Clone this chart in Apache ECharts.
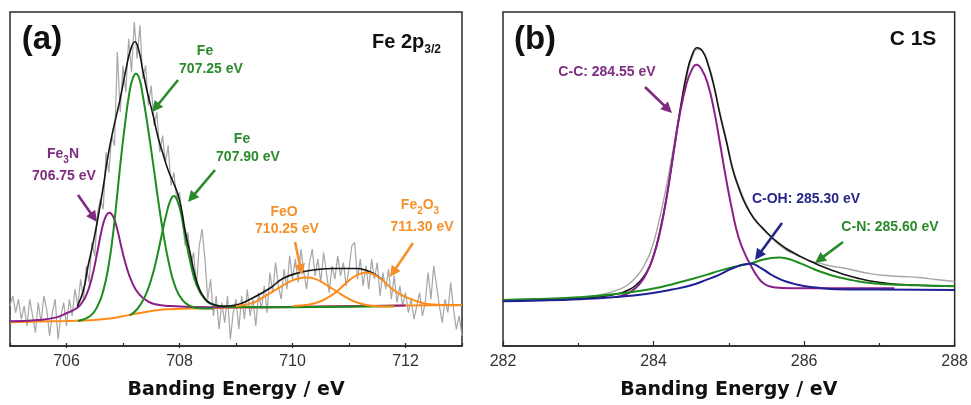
<!DOCTYPE html>
<html><head><meta charset="utf-8">
<script src="https://cdn.jsdelivr.net/npm/echarts@6/dist/echarts.min.js"></script>
<style>html,body{margin:0;padding:0;background:#fff}#c{width:971px;height:405px}</style>
</head><body><div id="c"></div>
<script>
// ---------- Panel (a): Fe 2p3/2 ----------
const aTickLabels = [706, 708, 710, 712];
const aRaw = [[705.00,12],[705.05,15],[705.10,10],[705.15,14],[705.20,8],[705.25,12],[705.30,6],[705.35,14],[705.40,9],[705.45,4],[705.50,13],[705.55,7],[705.60,15],[705.65,11],[705.70,3],[705.75,10],[705.80,14],[705.85,2],[705.90,9],[705.95,13],[706.00,6],[706.05,14],[706.10,9],[706.15,17],[706.20,12],[706.25,20],[706.30,14],[706.35,24],[706.40,19],[706.45,31],[706.50,27],[706.55,40],[706.60,44],[706.65,41],[706.70,58],[706.75,52],[706.80,63],[706.85,60],[706.90,88],[706.95,70],[707.00,84],[707.05,76],[707.10,92],[707.15,82],[707.20,97],[707.25,86],[707.30,96],[707.35,80],[707.40,84],[707.45,72],[707.50,78],[707.55,66],[707.60,70],[707.65,58],[707.70,63],[707.75,55],[707.80,60],[707.85,48],[707.90,52],[707.95,44],[708.00,46],[708.05,38],[708.10,30],[708.15,34],[708.20,24],[708.25,28],[708.30,18],[708.35,30],[708.40,35],[708.45,26],[708.50,14],[708.55,20],[708.60,9],[708.65,15],[708.70,5],[708.75,13],[708.80,7],[708.85,15],[708.90,2],[708.95,10],[709.00,14],[709.05,5],[709.10,15],[709.15,8],[709.20,17],[709.25,9],[709.30,14],[709.35,6],[709.40,16],[709.45,11],[709.50,18],[709.55,10],[709.60,22],[709.65,16],[709.70,25],[709.75,18],[709.80,14],[709.85,23],[709.90,17],[709.95,27],[710.00,20],[710.05,26],[710.10,19],[710.15,29],[710.20,22],[710.25,17],[710.30,25],[710.35,29],[710.40,21],[710.45,26],[710.50,19],[710.55,28],[710.60,22],[710.65,16],[710.70,24],[710.75,20],[710.80,27],[710.85,21],[710.90,25],[710.95,18],[711.00,23],[711.05,30],[711.10,31],[711.15,20],[711.20,26],[711.25,18],[711.30,24],[711.35,17],[711.40,26],[711.45,20],[711.50,25],[711.55,15],[711.60,22],[711.65,17],[711.70,23],[711.75,14],[711.80,21],[711.85,13],[711.90,18],[711.95,12],[712.00,16],[712.05,10],[712.10,14],[712.15,8],[712.20,12],[712.25,16],[712.30,9],[712.35,13],[712.40,22],[712.45,14],[712.50,24],[712.55,18],[712.60,12],[712.65,7],[712.70,14],[712.75,10],[712.80,19],[712.85,11],[712.90,5],[712.95,9],[713.00,3]];
const aBackground = [[705.0,7.1],[705.5,7.3],[706.0,7.5],[706.5,7.8],[706.8,8.3],[707.0,8.9],[707.2,9.6],[707.4,10.2],[707.6,10.7],[707.8,11.0],[708.2,11.2],[708.7,11.4],[709.5,11.6],[710.5,11.8],[711.5,12.0],[712.5,12.2],[713.0,12.3]];
const aFe3N = [[705.0,7.4],[705.5,7.8],[705.8,8.5],[706.0,9.8],[706.15,11.0],[706.25,12.4],[706.35,15.2],[706.45,20.5],[706.55,28.5],[706.62,34.5],[706.69,38.6],[706.76,39.9],[706.83,38.6],[706.90,34.8],[706.98,29],[707.06,23.8],[707.15,19.5],[707.28,15.6],[707.45,13.3],[707.6,12.4],[707.8,12.0],[708.2,11.7],[709.0,11.6],[710.0,11.7],[711.0,11.9],[712.0,12.1]];
const aFe1 = [[706.20,7.5],[706.42,9.0],[706.55,12.0],[706.65,16.5],[706.74,23.5],[706.82,33],[706.89,44],[706.96,55.5],[707.04,67],[707.11,75.5],[707.17,80.0],[707.23,81.5],[707.29,80.0],[707.35,75],[707.44,65.5],[707.53,55],[707.62,44],[707.71,34],[707.81,25],[707.92,18],[708.05,13.8],[708.2,11.9],[708.35,11.3],[708.60,11.2]];
const aFe2 = [[707.12,9.2],[707.25,11.0],[707.38,14.5],[707.50,20],[707.60,26.5],[707.69,33.6],[707.77,39.6],[707.84,43.6],[707.90,44.9],[707.96,43.6],[708.03,39.4],[708.11,32],[708.20,24.5],[708.30,18.4],[708.43,14.4],[708.58,12.5],[708.80,11.8],[709.5,11.6],[710.5,11.7],[711.8,11.9]];
const aFeO = [[709.0,11.9],[709.3,12.9],[709.5,14.8],[709.7,16.8],[709.9,18.8],[710.1,20.2],[710.25,20.5],[710.4,20.1],[710.6,18.3],[710.8,16.1],[711.0,14.1],[711.2,12.7],[711.5,11.9],[711.8,11.8]];
const aFe2O3 = [[710.0,12.0],[710.3,12.4],[710.5,13.4],[710.7,15.3],[710.85,17.3],[711.0,19.6],[711.15,21.3],[711.3,22.0],[711.45,21.3],[711.6,19.6],[711.75,17.3],[711.9,15.5],[712.1,14.0],[712.3,12.9],[712.5,12.4],[712.8,12.2],[713.0,12.3]];
const aEnvelope = [[706.19,11.8],[706.30,16.7],[706.38,23.8],[706.47,30.7],[706.56,38.7],[706.65,47.6],[706.73,56.5],[706.82,64.3],[706.95,74],[707.06,83.5],[707.14,89],[707.21,91.1],[707.28,88.5],[707.35,82.5],[707.44,75.3],[707.53,69.3],[707.62,62.5],[707.71,57.4],[707.80,52.6],[707.88,49.4],[707.97,45.5],[708.04,40.5],[708.10,34.5],[708.19,27.7],[708.27,21.5],[708.36,16.8],[708.47,13.8],[708.60,12.4],[708.75,11.9],[709.00,12.3],[709.25,14.0],[709.60,17.3],[709.83,20.2],[710.13,22.0],[710.43,22.9],[710.72,23.2],[711.14,23.2],[711.37,22.2],[711.50,21.0],[711.60,19.8]];

// ---------- Panel (b): C 1s ----------
const bTickLabels = [282, 284, 286, 288];
const bRaw = [[282.00,13.6],[282.50,13.9],[283.00,14.4],[283.20,14.9],[283.40,15.9],[283.55,17.0],[283.65,18.2],[283.75,20.2],[283.83,22.4],[283.90,25.2],[283.97,28.8],[284.05,35.2],[284.15,45.5],[284.25,57.5],[284.35,70.5],[284.45,81.5],[284.52,86.8],[284.58,88.8],[284.65,88.3],[284.72,85],[284.80,78.5],[284.88,70],[284.97,61.5],[285.05,53.5],[285.13,48],[285.23,42.5],[285.34,38],[285.45,35],[285.55,32.8],[285.65,30.6],[285.76,28.8],[285.87,27.5],[285.97,26.5],[286.10,25.3],[286.20,24.8],[286.33,24.1],[286.45,23.6],[286.56,23.2],[286.73,22.3],[286.90,21.6],[287.09,21.1],[287.30,20.8],[287.53,20.5],[287.75,19.9],[288.00,19.3]];
const bEnvelope = [[282.00,13.8],[282.50,14.0],[283.00,14.2],[283.15,14.4],[283.30,14.8],[283.45,15.3],[283.55,15.8],[283.68,16.9],[283.78,18.5],[283.86,20.5],[283.93,23],[283.99,26.2],[284.08,34],[284.17,44],[284.24,54],[284.30,63],[284.37,73],[284.44,81.5],[284.51,87],[284.58,89.3],[284.65,88.3],[284.72,84.5],[284.80,78],[284.88,69.5],[284.97,61],[285.05,53],[285.13,47.5],[285.23,42],[285.34,38],[285.45,35.3],[285.55,33],[285.65,31],[285.76,29.2],[285.87,27.8],[285.97,26.6],[286.10,25.2],[286.25,23.7],[286.42,22.3],[286.58,21.1],[286.73,20.2],[286.90,19.4],[287.09,18.8],[287.30,18.4],[287.53,18.2],[287.75,18.0],[288.00,17.9]];
const bCC = [[283.50,14.6],[283.60,15.2],[283.70,16.3],[283.80,18.2],[283.90,21.5],[284.00,27],[284.08,33.5],[284.15,41.5],[284.22,51],[284.28,60],[284.35,69.5],[284.43,77.8],[284.50,82.3],[284.57,84.2],[284.64,82.8],[284.72,78.5],[284.80,71],[284.88,61],[284.96,50.5],[285.05,40],[285.13,32.5],[285.22,27.3],[285.30,23.8],[285.38,20.8],[285.46,18.8],[285.55,17.8],[285.70,17.4],[286.00,17.3],[286.50,17.3],[287.20,17.3]];
const bCOH = [[282.00,13.4],[282.50,13.6],[283.00,14.0],[283.50,14.7],[283.90,15.6],[284.25,16.9],[284.50,18.2],[284.70,19.8],[284.87,21.3],[285.00,22.8],[285.10,23.7],[285.20,24.4],[285.30,24.6],[285.40,23.7],[285.54,21.7],[285.65,20.3],[285.76,19.3],[285.90,18.4],[286.02,17.9],[286.20,17.4],[286.42,17.0],[287.00,16.9],[288.00,16.8]];
const bCN = [[282.00,13.8],[282.50,14.1],[283.00,14.6],[283.59,15.8],[284.00,17.2],[284.25,18.5],[284.50,20.0],[284.70,21.3],[284.87,22.5],[285.05,23.6],[285.20,24.3],[285.30,24.8],[285.45,25.8],[285.55,26.3],[285.67,26.5],[285.78,26.1],[285.89,25.3],[286.00,24.3],[286.10,23.3],[286.25,22.0],[286.42,20.8],[286.58,20.0],[286.73,19.3],[286.90,18.8],[287.09,18.5],[287.50,18.2],[288.00,17.9]];

// ---------- styling ----------
const C = {
  gray:'#a6a6a6', black:'#151515', purple:'#8a1f8a', green:'#1e8c1e', orange:'#ff8c1a', blue:'#1f1f96',
  tPurple:'#7e2b80', tGreen:'#2b8a2b', tOrange:'#f5912c', tBlue:'#26268a'
};
const FONT = '"Liberation Sans", Arial, sans-serif';
const frame = '#2a2a2a';

function line(name, data, xi, color, width, smooth, z) {
  return { name, type:'line', xAxisIndex:xi, yAxisIndex:xi, data, showSymbol:false, symbol:'none',
    smooth: smooth, z: z || 2,
    lineStyle:{ color, width }, emphasis:{disabled:true}, silent:true, animation:false };
}

const axisLabelBase = { color:'#333', fontSize:16, fontFamily:FONT, margin:8 };
const nameStyle = { color:'#111', fontSize:19, fontWeight:'bold', fontFamily:'"DejaVu Sans", Verdana, sans-serif' };

const option = {
  animation:false,
  backgroundColor:'#fff',
  grid:[
    { left:10, top:12, width:452, height:336, show:true, borderColor:frame, borderWidth:1.5, backgroundColor:'transparent' },
    { left:503, top:12, width:453, height:336, show:true, borderColor:frame, borderWidth:1.5, backgroundColor:'transparent' },
    { left:66.5, top:12, width:339, height:336, show:false }
  ],
  xAxis:[
    { gridIndex:0, type:'value', min:705, max:713, interval:1,
      axisLine:{ show:true, lineStyle:{color:frame, width:1.5} },
      axisTick:{ show:true, inside:true, length:3, lineStyle:{color:frame, width:1.2} },
      axisLabel:Object.assign({}, axisLabelBase, { formatter: v => aTickLabels.indexOf(v) >= 0 ? String(v) : '' }),
      splitLine:{show:false},
      name:'Banding Energy / eV', nameLocation:'middle', nameGap:35, nameTextStyle:nameStyle },
    { gridIndex:1, type:'value', min:282, max:288, interval:2,
      axisLine:{ show:true, lineStyle:{color:frame, width:1.5} },
      axisTick:{ show:true, inside:true, length:5, lineStyle:{color:frame, width:1.2} },
      minorTick:{ show:true, splitNumber:2, length:3, lineStyle:{color:frame, width:1.2} },
      axisLabel:Object.assign({}, axisLabelBase, { formatter: v => bTickLabels.indexOf(v) >= 0 ? String(v) : '' }),
      splitLine:{show:false},
      name:'Banding Energy / eV', nameLocation:'middle', nameGap:35, nameTextStyle:nameStyle },
    { gridIndex:2, type:'value', min:706, max:712, interval:2,
      axisLine:{show:false}, axisTick:{ show:true, inside:true, length:5, lineStyle:{color:frame, width:1.2} },
      axisLabel:{show:false}, splitLine:{show:false} }
  ],
  yAxis:[
    { gridIndex:0, type:'value', min:0, max:100, show:false },
    { gridIndex:1, type:'value', min:0, max:100, show:false },
    { gridIndex:2, type:'value', min:0, max:100, show:false }
  ],
  series:[
    line('a raw', aRaw, 0, C.gray, 1.2, false, 1),
    line('a background', aBackground, 0, C.orange, 2, 0.5, 2),
    line('Fe3N', aFe3N, 0, C.purple, 2, 0.5, 3),
    line('Fe 707.25', aFe1, 0, C.green, 2, 0.5, 3),
    line('Fe 707.90', aFe2, 0, C.green, 2, 0.5, 3),
    line('a envelope', aEnvelope, 0, C.black, 1.6, 0.5, 4),
    line('FeO', aFeO, 0, C.orange, 2, 0.5, 5),
    line('Fe2O3', aFe2O3, 0, C.orange, 2, 0.5, 5),

    line('b raw', bRaw, 1, C.gray, 1.4, 0.5, 1),
    line('b envelope', bEnvelope, 1, C.black, 1.6, 0.5, 2),
    line('C-C', bCC, 1, C.purple, 2, 0.5, 3),
    line('C-N', bCN, 1, C.green, 2, 0.5, 3),
    line('C-OH', bCOH, 1, C.blue, 2, 0.5, 4)
  ]
};

// ---------- annotations ----------
function arrow(x1, y1, x2, y2, color) {
  const dx = x2 - x1, dy = y2 - y1, L = Math.hypot(dx, dy), ux = dx / L, uy = dy / L;
  const hl = 11, hw = 5.5;
  const bx = x2 - ux * hl, by = y2 - uy * hl;
  return [
    { type:'line', silent:true, z:100, shape:{ x1, y1, x2:bx + ux * 2, y2:by + uy * 2 }, style:{ stroke:color, lineWidth:2.6 } },
    { type:'polygon', silent:true, z:100, shape:{ points:[[x2, y2], [bx - uy * hw, by + ux * hw], [bx + uy * hw, by - ux * hw]] }, style:{ fill:color } }
  ];
}
function txt(x, y, text, color, size) {
  return { type:'text', x, y, silent:true, z:100,
    style:{ text, fill:color, fontSize:size, fontWeight:'bold', fontFamily:FONT, align:'center', verticalAlign:'middle' } };
}
function subTxt(x, y, text, color, size, subSize, align) {
  return { type:'text', x, y, silent:true, z:100,
    style:{ text, fill:color, fontFamily:FONT, fontWeight:'bold', fontSize:size, align: align || 'center', verticalAlign:'middle',
      rich:{
        n:{ fill:color, fontFamily:FONT, fontWeight:'bold', fontSize:size, verticalAlign:'bottom', padding:[0,0,Math.round(subSize*0.35),0] },
        s:{ fill:color, fontFamily:FONT, fontWeight:'bold', fontSize:subSize, verticalAlign:'bottom' }
      } } };
}

const graphics = [
  txt(42, 40, '(a)', '#111', 33),
  subTxt(372, 44, '{n|Fe 2p}{s|3/2}', '#111', 20, 12, 'left'),
  subTxt(63, 156, '{n|Fe}{s|3}{n|N}', C.tPurple, 14, 10),
  txt(64, 176, '706.75 eV', C.tPurple, 14),
  txt(205, 51, 'Fe', C.tGreen, 14),
  txt(211, 69, '707.25 eV', C.tGreen, 14),
  txt(242, 139, 'Fe', C.tGreen, 14),
  txt(248, 157, '707.90 eV', C.tGreen, 14),
  txt(284, 212, 'FeO', C.tOrange, 14),
  txt(287, 229, '710.25 eV', C.tOrange, 14),
  subTxt(420, 207, '{n|Fe}{s|2}{n|O}{s|3}', C.tOrange, 14, 10),
  txt(422, 227, '711.30 eV', C.tOrange, 14),
  ...arrow(78, 195, 97, 222, C.tPurple),
  ...arrow(178, 80, 152, 112, C.tGreen),
  ...arrow(215, 170, 188, 202, C.tGreen),
  ...arrow(295, 242, 302, 275, C.tOrange),
  ...arrow(413, 243, 390, 277, C.tOrange),

  txt(535, 40, '(b)', '#111', 33),
  txt(913, 39, 'C 1S', '#111', 21),
  txt(607, 72, 'C-C: 284.55 eV', C.tPurple, 14),
  txt(806, 199, 'C-OH: 285.30 eV', C.tBlue, 14),
  txt(890, 227, 'C-N: 285.60 eV', C.tGreen, 14),
  ...arrow(645, 87, 672, 113, C.tPurple),
  ...arrow(782, 223, 755, 260, C.tBlue),
  ...arrow(843, 242, 815, 263, C.tGreen)
];
option.graphic = { elements: graphics };

const chart = echarts.init(document.getElementById('c'), null, { renderer:'canvas' });
chart.setOption(option);
</script></body></html>
